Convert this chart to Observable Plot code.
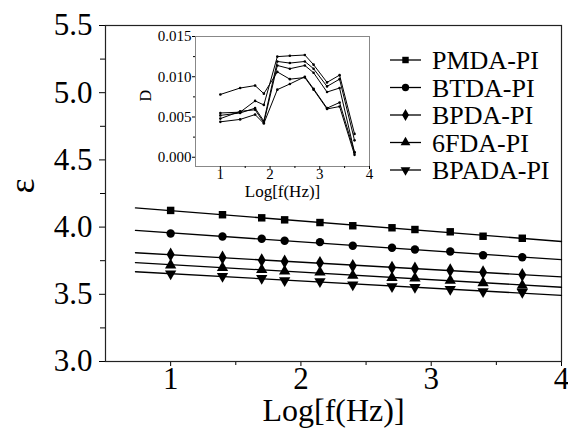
<!DOCTYPE html>
<html><head><meta charset="utf-8">
<script src="https://cdn.jsdelivr.net/npm/d3@7"></script>
<script src="https://cdn.jsdelivr.net/npm/@observablehq/plot@0.6"></script>
<style>
body{margin:0;background:#fff;}
#wrap{position:relative;width:568px;height:439px;}
#inset{position:absolute;left:130px;top:20px;}
</style></head><body><div id="wrap"><div id="main"></div><div id="inset"></div></div>
<script>
// log10 of frequency (Hz)
const logf = [1, 1.398, 1.699, 1.875, 2.146, 2.398, 2.699, 2.875, 3.146, 3.398, 3.699];
const seriesNames = ["PMDA-PI", "BTDA-PI", "BPDA-PI", "6FDA-PI", "BPADA-PI"];
// dielectric constant (main panel)
const epsPMDA  = [4.124, 4.092, 4.069, 4.054, 4.034, 4.010, 3.995, 3.982, 3.965, 3.932, 3.917];
const epsBTDA  = [3.952, 3.930, 3.913, 3.898, 3.888, 3.861, 3.846, 3.833, 3.818, 3.791, 3.776];
const epsBPDA  = [3.796, 3.774, 3.754, 3.744, 3.734, 3.712, 3.699, 3.692, 3.679, 3.664, 3.645];
const eps6FDA  = [3.717, 3.697, 3.682, 3.672, 3.664, 3.640, 3.623, 3.620, 3.603, 3.585, 3.565];
const epsBPADA = [3.653, 3.635, 3.620, 3.603, 3.595, 3.571, 3.558, 3.553, 3.538, 3.521, 3.516];
// dielectric loss (inset)
const dPMDA  = [0.0055, 0.0056, 0.0070, 0.0065, 0.0125, 0.0126, 0.0127, 0.0115, 0.0093, 0.0102, 0.0029];
const dBTDA  = [0.0078, 0.0086, 0.0089, 0.0079, 0.0106, 0.0097, 0.0099, 0.0084, 0.0060, 0.0063, 0.0003];
const dBPDA  = [0.0052, 0.0055, 0.0061, 0.0045, 0.0119, 0.0117, 0.0119, 0.0110, 0.0088, 0.0097, 0.0021];
const d6FDA  = [0.0048, 0.0057, 0.0059, 0.0043, 0.0114, 0.0110, 0.0114, 0.0105, 0.0081, 0.0086, 0.0006];
const dBPADA = [0.0044, 0.0047, 0.0053, 0.0042, 0.0084, 0.0091, 0.0100, 0.0085, 0.0061, 0.0068, 0.0006];
// axes
const xTicks = [1, 2, 3, 4];
const xMinor = [1.5, 2.5, 3.5];
const yTicks = [3.0, 3.5, 4.0, 4.5, 5.0, 5.5];
const yMinor = [3.25, 3.75, 4.25, 4.75, 5.25];
const dTicks = [0.000, 0.005, 0.010, 0.015];
const dMinor = [0.0025, 0.0075, 0.0125];
const fitRange = [0.73, 4.0];
const xTitle = "Log[f(Hz)]";
const yTitle = "ε";
const dTitle = "D";

const triangleDown = {
  draw(ctx, size) {
    const y = -Math.sqrt(size / (Math.sqrt(3) * 3));
    ctx.moveTo(0, -y * 2);
    ctx.lineTo(-Math.sqrt(3) * y, y);
    ctx.lineTo(Math.sqrt(3) * y, y);
    ctx.closePath();
  }
};
const symbols = [d3.symbolSquare, d3.symbolCircle, d3.symbolDiamond, d3.symbolTriangle, triangleDown];
const epsAll = [epsPMDA, epsBTDA, epsBPDA, eps6FDA, epsBPADA];
const dAll = [dPMDA, dBTDA, dBPDA, d6FDA, dBPADA];
const epsRows = seriesNames.map((s, i) => logf.map((x, j) => ({s, x, y: epsAll[i][j]})));
const dRows = seriesNames.flatMap((s, i) => logf.map((x, j) => ({s, x, y: dAll[i][j]})));
// least-squares fit lines
const fitRows = epsRows.flatMap(rows => {
  const mx = d3.mean(rows, d => d.x), my = d3.mean(rows, d => d.y);
  const b = d3.sum(rows, d => (d.x - mx) * (d.y - my)) / d3.sum(rows, d => (d.x - mx) ** 2);
  return fitRange.map(x => ({s: rows[0].s, x, y: my + b * (x - mx)}));
});

const R = 4.2;
const main = Plot.plot({
  width: 568, height: 439,
  marginLeft: 105, marginRight: 7, marginTop: 25, marginBottom: 78,
  style: `font-family: 'Liberation Serif', serif; font-size: 31px; color: #000;`,
  x: {domain: [0.5, 4]},
  y: {domain: [3, 5.5]},
  marks: [
    Plot.axisX(xTicks, {tickSize: 5, tickPadding: 0, tickFormat: d => String(d), label: null}),
    Plot.axisX(xMinor, {tickSize: 4, tickFormat: () => "", label: null}),
    Plot.axisY(yTicks, {tickSize: 6, tickPadding: 7, tickFormat: d => d.toFixed(1), label: null}),
    Plot.axisY(yMinor, {tickSize: 5, tickFormat: () => "", label: null}),
    Plot.frame({stroke: "#222", strokeWidth: 1.2}),
    Plot.line(fitRows, {x: "x", y: "y", z: "s", stroke: "#000", strokeWidth: 1.3}),
    ...epsRows.map((rows, i) => Plot.dot(rows, {x: "x", y: "y", symbol: symbols[i], r: R, fill: "#000", stroke: null})),
    Plot.text([xTitle], {frameAnchor: "bottom", dy: 59, fontSize: 32, text: d => d}),
    Plot.text([yTitle], {frameAnchor: "left", dx: -83, rotate: -90, fontSize: 36, text: d => d})
  ]
});
document.getElementById("main").append(main);

// legend inside the main frame
const svg = d3.select(main);
const lg = svg.append("g").attr("font-size", 26).attr("text-anchor", "start");
seriesNames.forEach((name, i) => {
  const y = 60 + i * 27.5;
  const g = lg.append("g").attr("transform", `translate(0,${y})`);
  g.append("line").attr("x1", 390).attr("x2", 421).attr("stroke", "#000").attr("stroke-width", 1.3);
  g.append("path").attr("transform", "translate(405.5,0)").attr("d", d3.symbol(symbols[i], Math.PI * R * R * 0.75)()).attr("fill", "#000");
  g.append("text").attr("x", 432).attr("dy", "0.35em").text(name);
});

const inset = Plot.plot({
  width: 245, height: 185,
  marginLeft: 65, marginRight: 6, marginTop: 16, marginBottom: 39,
  style: `font-family: 'Liberation Serif', serif; font-size: 15px; color: #000;`,
  x: {domain: [0.5, 4]},
  y: {domain: [-0.00115, 0.015]},
  marks: [
    Plot.frame({stroke: "#888", strokeWidth: 1}),
    Plot.axisX(xTicks, {tickSize: 3, tickPadding: -1, tickFormat: d => String(d), label: null}),
    Plot.axisX(xMinor, {tickSize: 2, tickFormat: () => "", label: null}),
    Plot.axisY(dTicks, {tickSize: 3, tickPadding: 1, tickFormat: d => d.toFixed(3), label: null}),
    Plot.axisY(dMinor, {tickSize: 2, tickFormat: () => "", label: null}),
    Plot.line(dRows, {x: "x", y: "y", z: "s", stroke: "#000", strokeWidth: 1}),
    Plot.dot(dRows, {x: "x", y: "y", r: 1.3, fill: "#000", stroke: null}),
    Plot.text([xTitle], {frameAnchor: "bottom", dy: 30, fontSize: 17, text: d => d}),
    Plot.text([dTitle], {frameAnchor: "left", dx: -50, rotate: -90, fontSize: 16, text: d => d})
  ]
});
document.getElementById("inset").append(inset);
</script></body></html>
